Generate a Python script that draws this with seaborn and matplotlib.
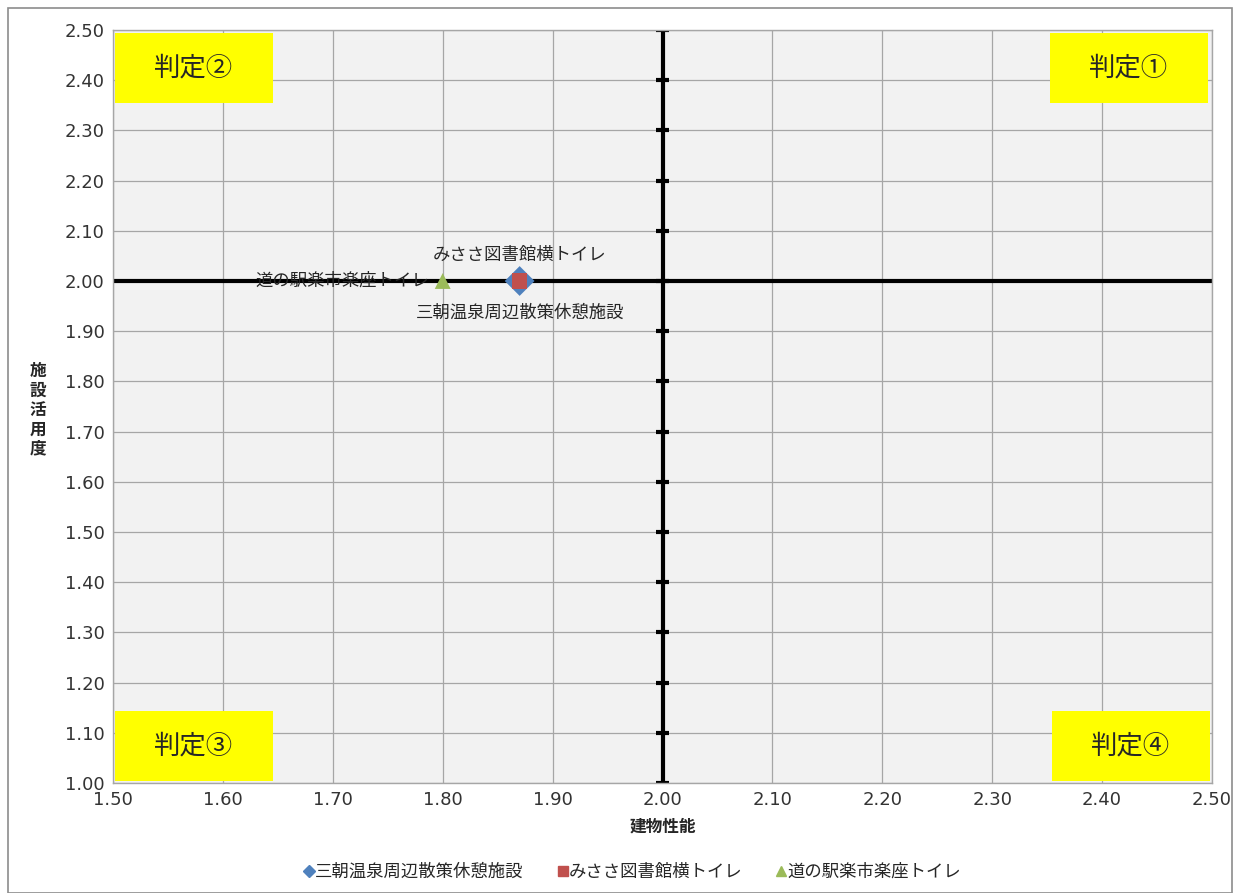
import matplotlib
matplotlib.use("Agg")
import matplotlib.pyplot as plt
import seaborn as sns
import pandas as pd
import numpy as np
from matplotlib.patches import Rectangle
from matplotlib.lines import Line2D

sns.set_style("white")
plt.rcParams['font.family'] = ['Noto Sans CJK JP', 'DejaVu Sans']

facilities = ["三朝温泉周辺散策休憩施設", "みささ図書館横トイレ", "道の駅楽市楽座トイレ"]
building_perf = [1.87, 1.87, 1.80]
usage = [2.00, 2.00, 2.00]
markers = ["D", "s", "^"]
colors = ["#4f81bd", "#c0504d", "#9bbb59"]
marker_sizes = [230, 120, 130]
quadrant_labels = ["判定①", "判定②", "判定③", "判定④"]
x_ticks = [1.50, 1.60, 1.70, 1.80, 1.90, 2.00, 2.10, 2.20, 2.30, 2.40, 2.50]
y_ticks = [1.00, 1.10, 1.20, 1.30, 1.40, 1.50, 1.60, 1.70, 1.80, 1.90,
           2.00, 2.10, 2.20, 2.30, 2.40, 2.50]

df = pd.DataFrame({"facility": facilities, "x": building_perf, "y": usage})

fig = plt.figure(figsize=(12.4, 8.93), dpi=100)
fig.patches.append(Rectangle((8/1240, 0), 1 - 16/1240, 1 - 8/893, transform=fig.transFigure,
                             fill=False, edgecolor="#8c8c8c", linewidth=1.2))
ax = fig.add_axes([113/1240, 1 - 783/893, (1212 - 113)/1240, (783 - 30)/893])
ax.set_facecolor("#f2f2f2")

ax.set_xlim(1.5, 2.5)
ax.set_ylim(1.0, 2.5)
ax.set_xticks(x_ticks)
ax.set_yticks(y_ticks)
ax.set_xticklabels([f"{t:.2f}" for t in x_ticks], fontsize=13, family="DejaVu Sans", color="#333333")
ax.set_yticklabels([f"{t:.2f}" for t in y_ticks], fontsize=13, family="DejaVu Sans", color="#333333")
ax.grid(True, color="#a6a6a6", linewidth=0.9)
ax.set_axisbelow(True)
for s in ax.spines.values():
    s.set_color("#a6a6a6")
    s.set_linewidth(1.0)
ax.tick_params(length=0, pad=6)

# central axes lines
ax.axvline(2.0, color="black", linewidth=3, zorder=2)
ax.axhline(2.0, color="black", linewidth=3, zorder=2)
for t in y_ticks:
    ax.plot([1.994, 2.006], [t, t], color="black", linewidth=3, zorder=2, solid_capstyle="butt")

# quadrant boxes
boxes = [
    (1050, 33, 1208, 103, quadrant_labels[0]),
    (115, 33, 273, 103, quadrant_labels[1]),
    (115, 711, 273, 781, quadrant_labels[2]),
    (1052, 711, 1210, 781, quadrant_labels[3]),
]
for x0, y0, x1, y1, lab in boxes:
    fx0 = x0 / 1240; fy0 = 1 - y1 / 893
    w = (x1 - x0) / 1240; h = (y1 - y0) / 893
    fig.patches.append(Rectangle((fx0, fy0), w, h, transform=fig.transFigure,
                                 facecolor="#ffff00", edgecolor="none", zorder=5))
    fig.text(fx0 + w / 2, fy0 + h / 2, lab, ha="center", va="center", fontsize=19, zorder=6)

# points
for i, row in df.iterrows():
    sns.scatterplot(x=[row.x], y=[row.y], marker=markers[i], s=marker_sizes[i], color=colors[i],
                    edgecolor="none", ax=ax, zorder=4, legend=False)

ax.annotate(facilities[1], (building_perf[1], usage[1]), xytext=(0, 19), textcoords="offset points",
            ha="center", va="center", fontsize=12.5)
ax.annotate(facilities[0], (building_perf[0], usage[0]), xytext=(0, -23), textcoords="offset points",
            ha="center", va="center", fontsize=12.5)
ax.annotate(facilities[2], (building_perf[2], usage[2]), xytext=(-10, 0), textcoords="offset points",
            ha="right", va="center", fontsize=12.5)

ax.set_xlabel("建物性能", fontsize=12, fontweight="bold", labelpad=6)
ax.set_ylabel("")
fig.text(38 / 1240, 1 - 410 / 893, "施\n設\n活\n用\n度", ha="center", va="center",
         fontsize=12, fontweight="bold", linespacing=1.1)

handles = [Line2D([], [], marker=markers[i], color=colors[i], linestyle="none",
                  markersize=[6, 7, 7][i]) for i in range(3)]
fig.legend(handles, facilities, loc="center", bbox_to_anchor=(632 / 1240, 1 - 872 / 893), ncol=3,
           frameon=False, fontsize=12.5, handletextpad=0.0, columnspacing=1.9, handlelength=0.7)

fig.savefig("out.png", dpi=100)
